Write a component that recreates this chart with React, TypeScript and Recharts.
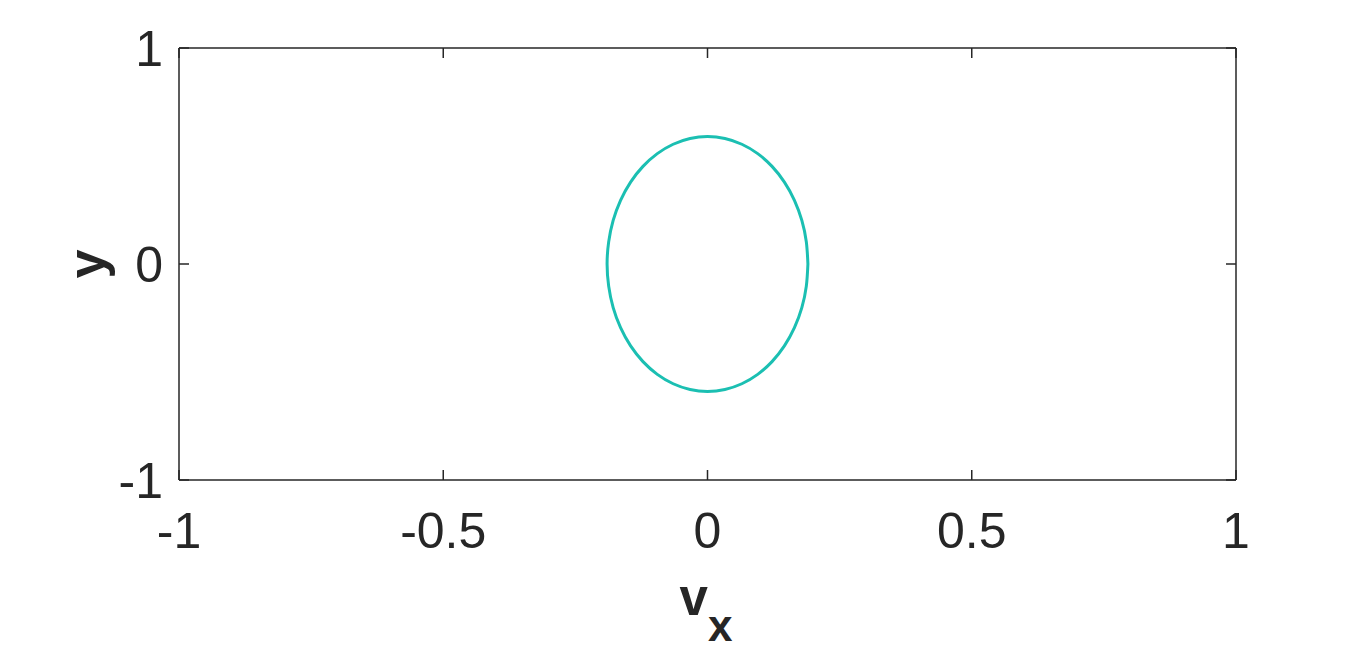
import { ScatterChart, Scatter, XAxis, YAxis } from 'recharts'

// contour, walked counter-clockwise from (vx max, 0)
const vxValues = [
  0.19, 0.187, 0.1785, 0.1645, 0.1455, 0.1221, 0.095, 0.065, 0.033, 0,
  -0.033, -0.065, -0.095, -0.1221, -0.1455, -0.1645, -0.1785, -0.187, -0.19,
  -0.187, -0.1785, -0.1645, -0.1455, -0.1221, -0.095, -0.065, -0.033, 0,
  0.033, 0.065, 0.095, 0.1221, 0.1455, 0.1645, 0.1785, 0.187, 0.19,
]
const yValues = [
  0, 0.1024, 0.2018, 0.295, 0.3793, 0.4519, 0.5109, 0.5544, 0.581, 0.59,
  0.581, 0.5544, 0.5109, 0.4519, 0.3793, 0.295, 0.2018, 0.1024, 0,
  -0.1024, -0.2018, -0.295, -0.3793, -0.4519, -0.5109, -0.5544, -0.581, -0.59,
  -0.581, -0.5544, -0.5109, -0.4519, -0.3793, -0.295, -0.2018, -0.1024, 0,
]
const xTicks = [-1, -0.5, 0, 0.5, 1]
const yTicks = [-1, 0, 1]

const data = vxValues.map((vx, i) => ({ vx, y: yValues[i] }))

const INK = '#262626'
const FONT = '"Liberation Sans", Arial, Helvetica, sans-serif'
const CURVE = '#1bbfb2'

const tickStyle = { fontSize: 50, fill: INK, fontFamily: FONT }
const inkLine = { stroke: INK, strokeWidth: 1.5 }
const noMark = () => <g />

export default function App() {
  return (
    <div style={{ position: 'absolute', left: 0, top: 0, background: '#fff' }}>
      <ScatterChart width={1366} height={651} margin={{ top: 48, right: 130, bottom: 91, left: 79 }}>
        {/* labelled bottom / left axes */}
        <XAxis
          xAxisId="b"
          dataKey="vx"
          type="number"
          orientation="bottom"
          domain={[-1, 1]}
          ticks={xTicks}
          allowDataOverflow
          height={80}
          tickLine={false}
          tickMargin={26}
          axisLine={inkLine}
          tick={tickStyle}
          label={{
            content: ({ viewBox }: any) => (
              <text
                x={viewBox.x + viewBox.width / 2 - 28}
                y={viewBox.y + 135}
                fill={INK}
                fontFamily={FONT}
                fontWeight="bold"
                fontSize={51}
              >
                v
                <tspan dy={26} fontSize={44}>x</tspan>
              </text>
            ),
          }}
        />
        <YAxis
          yAxisId="l"
          dataKey="y"
          type="number"
          orientation="left"
          domain={[-1, 1]}
          ticks={yTicks}
          allowDataOverflow
          width={100}
          tickLine={false}
          tickMargin={10}
          axisLine={inkLine}
          tick={tickStyle}
          label={{
            content: ({ viewBox }: any) => {
              const cx = viewBox.x + 7
              const cy = viewBox.y + viewBox.height / 2
              return (
                <text
                  x={cx}
                  y={cy}
                  transform={`rotate(-90, ${cx}, ${cy})`}
                  textAnchor="middle"
                  dominantBaseline="central"
                  fill={INK}
                  fontFamily={FONT}
                  fontWeight="bold"
                  fontSize={52}
                >
                  y
                </text>
              )
            },
          }}
        />
        {/* inward tick marks on bottom / left */}
        <XAxis
          xAxisId="bm"
          dataKey="vx"
          type="number"
          orientation="bottom"
          mirror
          domain={[-1, 1]}
          ticks={xTicks}
          allowDataOverflow
          height={1}
          tickSize={10}
          tick={noMark}
          axisLine={false}
          tickLine={inkLine}
        />
        <YAxis
          yAxisId="lm"
          dataKey="y"
          type="number"
          orientation="left"
          mirror
          domain={[-1, 1]}
          ticks={yTicks}
          allowDataOverflow
          width={1}
          tickSize={10}
          tick={noMark}
          axisLine={false}
          tickLine={inkLine}
        />
        {/* box: top / right with inward ticks */}
        <XAxis
          xAxisId="t"
          dataKey="vx"
          type="number"
          orientation="top"
          mirror
          domain={[-1, 1]}
          ticks={xTicks}
          allowDataOverflow
          height={1}
          tickSize={10}
          tick={noMark}
          axisLine={inkLine}
          tickLine={inkLine}
        />
        <YAxis
          yAxisId="r"
          dataKey="y"
          type="number"
          orientation="right"
          mirror
          domain={[-1, 1]}
          ticks={yTicks}
          allowDataOverflow
          width={1}
          tickSize={10}
          tick={noMark}
          axisLine={inkLine}
          tickLine={inkLine}
        />
        <Scatter data={data} xAxisId="bm" yAxisId="lm" shape={noMark} isAnimationActive={false} />
        <Scatter data={data} xAxisId="t" yAxisId="r" shape={noMark} isAnimationActive={false} />
        <Scatter
          data={data}
          xAxisId="b"
          yAxisId="l"
          line={{ stroke: CURVE, strokeWidth: 3 }}
          lineJointType="natural"
          shape={noMark}
          isAnimationActive={false}
        />
      </ScatterChart>
    </div>
  )
}
